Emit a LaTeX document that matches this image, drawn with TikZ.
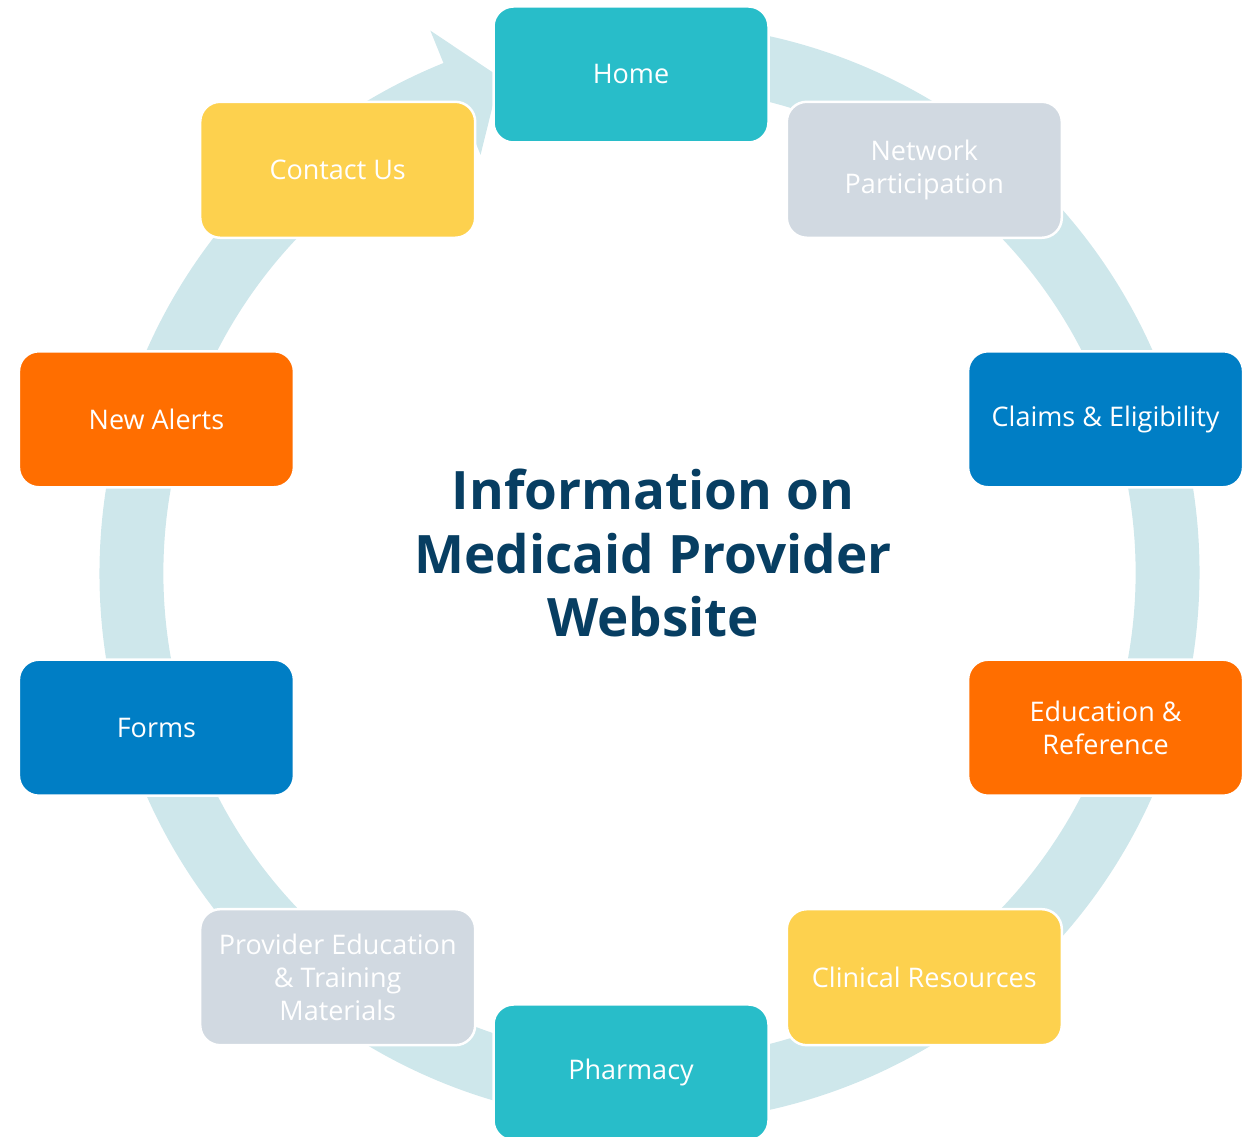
\documentclass[tikz,border=0pt]{standalone}
\usepackage{fontspec}
\setmainfont{Open Sans}
\usetikzlibrary{calc}

\definecolor{ringc}{RGB}{206,231,235}
\definecolor{tealc}{RGB}{40,189,201}
\definecolor{grayc}{RGB}{209,217,225}
\definecolor{bluec}{RGB}{0,126,197}
\definecolor{orangec}{RGB}{255,110,0}
\definecolor{yellowc}{RGB}{253,209,78}
\definecolor{navyc}{RGB}{7,62,98}

\tikzset{
  topic/.style={draw=white, line width=2.5pt, rounded corners=20pt,
    minimum width=275pt, minimum height=136pt, align=center,
    text=white, font=\fontsize{27}{33}\selectfont, inner sep=0pt},
}

\begin{document}
\begin{tikzpicture}[x=1pt,y=1pt]
  \useasboundingbox (0,0) rectangle (1256,1137);
  \clip (0,0) rectangle (1256,1137);

  \coordinate (rc) at (649.5,564);
  \coordinate (c) at (631,563.5);

  % circular band with arrow head pointing into the top box
  \fill[ringc]
    ([shift={(85:550)}]rc) arc[start angle=85, end angle=-248, radius=550pt]
    -- ([shift={(-248:585)}]rc)
    -- ([shift={(-253.2:518)}]rc)
    -- ([shift={(-248:451)}]rc)
    -- ([shift={(-248:486)}]rc)
    arc[start angle=-248, end angle=85, radius=486pt] -- cycle;

  % topic boxes around the circle
  \node[topic, fill=tealc]   (home)      at ([shift={(90:499)}]c)   {Home};
  \node[topic, fill=grayc]   (network)   at ([shift={(54:499)}]c)   {Network\\Participation};
  \node[topic, fill=bluec]   (claims)    at ([shift={(18:499)}]c)   {Claims \& Eligibility};
  \node[topic, fill=orangec] (education) at ([shift={(-18:499)}]c)  {Education \&\\Reference};
  \node[topic, fill=yellowc] (clinical)  at ([shift={(-54:499)}]c)  {Clinical Resources};
  \node[topic, fill=tealc]   (pharmacy)  at ([shift={(-90:499)}]c)  {Pharmacy};
  \node[topic, fill=grayc]   (provider)  at ([shift={(-126:499)}]c) {Provider Education\\\& Training\\Materials};
  \node[topic, fill=bluec]   (forms)     at ([shift={(-162:499)}]c) {Forms};
  \node[topic, fill=orangec] (alerts)    at ([shift={(162:499)}]c)  {New Alerts};
  \node[topic, fill=yellowc] (contact)   at ([shift={(126:499)}]c)  {Contact Us};

  % central heading
  \node[align=center, text=navyc, font=\bfseries\fontsize{53}{63.5}\selectfont, inner sep=0pt]
    (title) at (653,584) {Information on\\Medicaid Provider\\Website};
\end{tikzpicture}
\end{document}
